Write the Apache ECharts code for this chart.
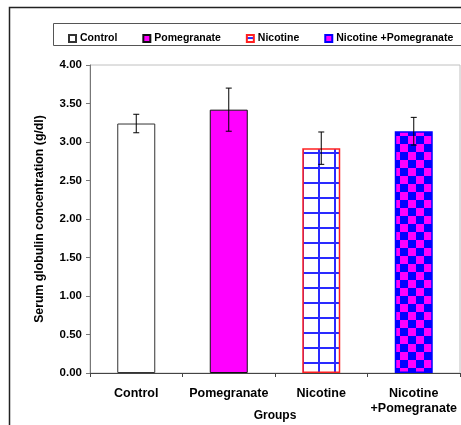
<!DOCTYPE html>
<html><head><meta charset="utf-8">
<script src="https://cdn.jsdelivr.net/npm/echarts@6/dist/echarts.min.js"></script>
<style>html,body{margin:0;padding:0;background:#fff}#c{width:461px;height:425px}</style>
</head><body><div id="c"></div>
<script>
const categories = ['Control', 'Pomegranate', 'Nicotine', 'Nicotine\n+Pomegranate'];
const seriesNames = ['Control', 'Pomegranate', 'Nicotine', 'Nicotine +Pomegranate'];
const means = [3.24, 3.42, 2.92, 3.14];
const errors = [0.12, 0.28, 0.21, 0.18];
const yTicks = [0, 0.5, 1, 1.5, 2, 2.5, 3, 3.5, 4];

function gridPattern() {
  const c = document.createElement('canvas'); c.width = 16; c.height = 15;
  const g = c.getContext('2d');
  g.fillStyle = '#fff'; g.fillRect(0, 0, 16, 15);
  g.fillStyle = '#2a2aff';
  g.fillRect(14, 0, 2, 15);
  g.fillRect(0, 2, 16, 2);
  return c;
}
function checkPattern() {
  const c = document.createElement('canvas'); c.width = 16; c.height = 16;
  const g = c.getContext('2d');
  g.fillStyle = '#0000ff'; g.fillRect(0, 0, 16, 16);
  g.fillStyle = '#ff00ff'; g.fillRect(0, 0, 8, 8); g.fillRect(8, 8, 8, 8);
  return c;
}
const styles = [
  {color: '#ffffff', borderColor: '#333', borderWidth: 1},
  {color: '#ff00ff', borderColor: '#111', borderWidth: 1},
  {color: {image: gridPattern(), repeat: 'repeat'}, borderColor: '#ff2020', borderWidth: 1.5},
  {color: {image: checkPattern(), repeat: 'repeat'}, borderColor: '#0000ff', borderWidth: 1.5}
];

const chart = echarts.init(document.getElementById('c'), null, {renderer: 'canvas'});
const barSeries = seriesNames.map((n, i) => ({
  name: n, type: 'bar', barWidth: 38, barGap: '-100%',
  data: means.map((v, j) => j === i ? v : '-'),
  itemStyle: styles[i], emphasis: {disabled: true}, z: 2
}));
const errSeries = {
  type: 'custom', z: 5, silent: true,
  data: means.map((v, i) => [i, v, errors[i]]),
  renderItem: function (params, api) {
    const x = api.value(0), m = api.value(1), e = api.value(2);
    const top = api.coord([x, m + e]), bot = api.coord([x, m - e]);
    const cw = 3, st = {stroke: '#000', lineWidth: 1};
    return {type: 'group', children: [
      {type: 'line', shape: {x1: top[0], y1: top[1], x2: bot[0], y2: bot[1]}, style: st},
      {type: 'line', shape: {x1: top[0] - cw, y1: top[1], x2: top[0] + cw, y2: top[1]}, style: st},
      {type: 'line', shape: {x1: bot[0] - cw, y1: bot[1], x2: bot[0] + cw, y2: bot[1]}, style: st}
    ]};
  }
};

chart.setOption({
  animation: false,
  textStyle: {fontFamily: 'Liberation Sans, Arial, sans-serif'},
  graphic: [
    {type: 'polyline', shape: {points: [[9.5, 425], [9.5, 7.5], [461, 7.5]]}, style: {stroke: '#222', lineWidth: 1.5, fill: null}, z: 0},
    {type: 'rect', shape: {x: 53.5, y: 23.5, width: 420, height: 22}, style: {stroke: '#555', lineWidth: 1, fill: '#fff'}, z: 0}
  ],
  legend: {
    top: 28, left: 63, width: 420, itemWidth: 7, itemHeight: 7, itemGap: 25, icon: 'rect',
    selectedMode: false, orient: 'horizontal',
    textStyle: {fontSize: 10.5, fontWeight: 'bold', color: '#000', padding: [0, 0, 0, -1]},
    data: seriesNames
  },
  grid: {left: 90, right: 1, top: 65, bottom: 52, show: true, borderColor: '#c0c0c0', borderWidth: 1,
    outerBoundsMode: 'none', containLabel: false},
  xAxis: {
    type: 'category', data: categories,
    name: 'Groups', nameLocation: 'middle', nameGap: 37, nameMoveOverlap: false,
    nameTextStyle: {fontSize: 12, fontWeight: 'bold', color: '#000'},
    axisLine: {lineStyle: {color: '#444', width: 1}},
    axisTick: {show: true, length: 4, lineStyle: {color: '#444'}},
    axisLabel: {fontSize: 12.5, fontWeight: 'bold', color: '#000', margin: 13, lineHeight: 15, interval: 0}
  },
  yAxis: {
    type: 'value', min: 0, max: 4, interval: 0.5,
    name: 'Serum globulin concentration (g/dl)', nameLocation: 'middle', nameGap: 44, nameMoveOverlap: false,
    nameTextStyle: {fontSize: 12.3, fontWeight: 'bold', color: '#000'},
    axisLine: {show: true, lineStyle: {color: '#777', width: 1}},
    axisTick: {show: true, length: 4, lineStyle: {color: '#777'}},
    splitLine: {show: false},
    axisLabel: {fontSize: 11.5, fontWeight: 'bold', color: '#000', margin: 8,
      formatter: v => yTicks.includes(v) ? v.toFixed(2) : ''}
  },
  series: barSeries.concat([errSeries])
});
</script></body></html>
